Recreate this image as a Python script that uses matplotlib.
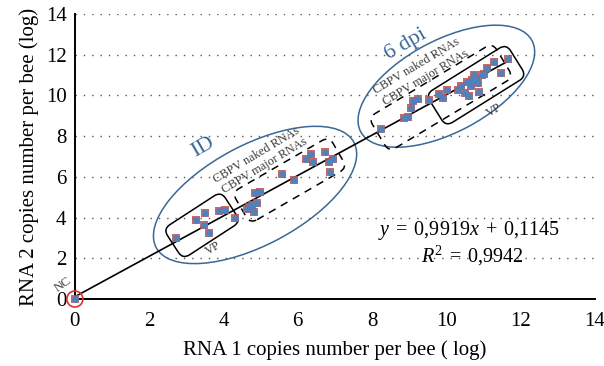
import numpy as np
import matplotlib
matplotlib.use('Agg')
from matplotlib import pyplot as plt
from matplotlib import transforms as mtransforms
from matplotlib.patches import Ellipse, FancyBboxPatch

# Data (log copies per bee)
id_x = [2.72, 3.25, 3.48, 3.50, 3.62, 3.89, 4.03, 4.32, 4.62, 4.70, 4.78, 4.83,
        4.85, 4.90, 4.99, 5.57, 5.89, 6.22, 6.35, 6.41, 6.72, 6.85, 6.94, 6.86]
id_y = [2.98, 3.88, 3.63, 4.21, 3.23, 4.32, 4.36, 3.96, 4.42, 4.50, 4.62, 4.29,
        5.19, 4.73, 5.26, 6.12, 5.84, 6.86, 7.11, 6.71, 7.20, 6.74, 6.86, 6.22]
dpi6_x = [8.23, 8.87, 8.97, 9.04, 9.09, 9.25, 9.52, 9.79, 9.90, 10.03, 10.31, 10.40,
          10.51, 10.62, 10.56, 10.66, 10.70, 10.74, 10.80, 10.85, 10.88, 10.95,
          11.00, 11.10, 11.27, 11.46, 11.66]
dpi6_y = [8.36, 8.90, 8.92, 9.37, 9.72, 9.80, 9.78, 10.05, 9.85, 10.27, 10.25, 10.45,
          10.10, 9.98, 10.67, 10.45, 10.75, 10.98, 10.80, 10.60, 10.18, 11.00,
          11.05, 11.35, 11.66, 11.10, 11.78]
nc_x = [0.0]
nc_y = [0.0]

slope, intercept = 0.9919, 0.1145
fit_x = [0.0, 11.72]

ticks = [0, 2, 4, 6, 8, 10, 12, 14]

plt.rcParams['font.family'] = ['Liberation Serif', 'DejaVu Serif']
plt.rcParams['mathtext.fontset'] = 'custom'
plt.rcParams['mathtext.rm'] = 'Liberation Serif'
plt.rcParams['mathtext.it'] = 'Liberation Serif:italic'

blue = '#4f81bd'
red = '#c0504d'
navy = '#3a6796'
grey = '#3a3a3a'

fig = plt.figure(figsize=(6.04, 3.66), dpi=100)
ax = fig.add_axes([0.124, 0.183, 0.861, 0.779])

# horizontal dotted grid
for t in ticks[1:]:
    ax.axhline(t, color='#555555', lw=1.0, ls=(0, (1, 5)), zorder=0)

# regression line
ax.plot(fit_x, [slope * v + intercept for v in fit_x], color='black', lw=1.2, zorder=2)

# points: red square under blue dot
all_x = nc_x + id_x + dpi6_x
all_y = nc_y + id_y + dpi6_y
ax.scatter(all_x, all_y, marker='s', s=38, color=red, alpha=0.85, lw=0, zorder=3, clip_on=False)
ax.scatter(all_x, all_y, marker='o', s=24, color=blue, lw=0, zorder=4, clip_on=False)


def anchor(x, y):
    # pixel-sized shapes placed at a data point
    return mtransforms.ScaledTranslation(x, y, ax.transData)


def ellipse(x, y, w, h, ang):
    ax.add_patch(Ellipse((0, 0), w, h, angle=ang, fill=False, ec=navy, lw=1.1,
                         transform=anchor(x, y), clip_on=False, zorder=1))


def rbox(x, y, w, h, ang, ls):
    tr = mtransforms.Affine2D().rotate_deg(ang) + anchor(x, y)
    ax.add_patch(FancyBboxPatch((-w / 2, -h / 2), w, h,
                                boxstyle='round,pad=0,rounding_size=8',
                                fill=False, ec='black', lw=1.1, ls=ls,
                                transform=tr, clip_on=False, zorder=1))


ellipse(4.85, 5.11, 224, 100, 28)
ellipse(10.0, 10.45, 194, 92, 28)
rbox(3.42, 3.62, 69, 36, 33, '-')
rbox(5.78, 5.84, 112, 36, 30, (0, (5, 4)))
rbox(10.8, 10.5, 95, 38, 32, '-')
rbox(9.85, 9.9, 145, 40, 31, (0, (5, 4)))

# NC marker circle
ax.add_patch(Ellipse((0, 0), 16, 16, fill=False, ec='#e03030', lw=1.2,
                     transform=anchor(0, 0), clip_on=False, zorder=5))

# labels
ax.text(3.45, 7.47, 'ID', color=navy, fontsize=16, rotation=30,
        ha='center', va='center', rotation_mode='anchor')
ax.text(8.9, 12.48, '6 dpi', color=navy, fontsize=16, rotation=30,
        ha='center', va='center', rotation_mode='anchor')
for tx, ty, s in [(4.9, 7.07, 'CBPV naked RNAs'), (5.12, 6.54, 'CBPV major RNAs'),
                  (9.21, 11.45, 'CBPV naked RNAs'), (9.43, 10.84, 'CBPV major RNAs')]:
    ax.text(tx, ty, s, color=grey, fontsize=8.8, rotation=31,
            ha='center', va='center', rotation_mode='anchor')
ax.text(3.72, 2.5, 'VP', color=grey, fontsize=9, rotation=31,
        ha='center', va='center', rotation_mode='anchor')
ax.text(11.28, 9.28, 'VP', color=grey, fontsize=9, rotation=31,
        ha='center', va='center', rotation_mode='anchor')
ax.text(-0.32, 0.69, 'NC', color=grey, fontsize=9, rotation=35,
        ha='center', va='center', rotation_mode='anchor', clip_on=False)

ax.text(10.62, 3.38, r'$y\;=\;0{,}9919x\;+\;0{,}1145$', fontsize=14.5,
        ha='center', va='center')
ax.text(10.71, 2.12, r'$R^2\;=\;0{,}9942$', fontsize=14.5, ha='center', va='center')

ax.set_xlim(0, 14)
ax.set_ylim(0, 14)
ax.set_xticks(ticks)
ax.set_yticks(ticks)
ax.tick_params(axis='x', length=0, labelsize=15, pad=9)
ax.tick_params(axis='y', length=0, labelsize=15, pad=6)
ax.spines['top'].set_visible(False)
ax.spines['right'].set_visible(False)
ax.spines['left'].set_linewidth(1.4)
ax.spines['bottom'].set_linewidth(1.4)
ax.set_xlabel('RNA 1 copies number per bee ( log)', fontsize=15, labelpad=7)
ax.set_ylabel('RNA 2 copies number per bee (log)', fontsize=15, labelpad=5)

fig.savefig('out.png', dpi=100)
